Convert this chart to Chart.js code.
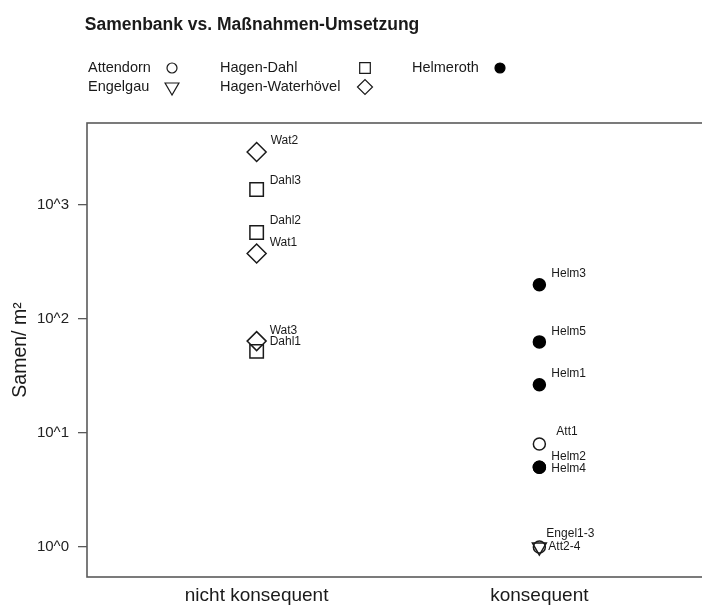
<!DOCTYPE html>
<html>
<head>
<meta charset="utf-8">
<script src="https://cdn.jsdelivr.net/npm/chart.js@4"></script>
<style>
    html, body { margin: 0; padding: 0; background: #fff; width: 702px; height: 605px; overflow: hidden; }
    #wrap { width: 720px; height: 605px; }
</style>
</head>
<body>
<div id="wrap"><canvas id="seedChart" width="720" height="605"></canvas></div>
<script>
// ============ Daten ============
const TITLE = 'Samenbank vs. Maßnahmen-Umsetzung';
const CATEGORIES = ['nicht konsequent', 'konsequent'];
const Y_TICKS = [1, 10, 100, 1000];
const Y_TICK_LABELS = ['10^0', '10^1', '10^2', '10^3'];

const attendornValues = [8, 1];
const attendornNames = ['Att1', 'Att2-4'];
const engelgauValues = [1];
const engelgauNames = ['Engel1-3'];
const dahlValues = [52, 574, 1370];
const dahlNames = ['Dahl1', 'Dahl2', 'Dahl3'];
const waterhoevelValues = [376, 2920, 64];
const waterhoevelNames = ['Wat1', 'Wat2', 'Wat3'];
const helmerothValues = [26.5, 5, 200, 5, 63];
const helmerothNames = ['Helm1', 'Helm2', 'Helm3', 'Helm4', 'Helm5'];

// ============ Stil ============
const FONT = '"Liberation Sans", Arial, Helvetica, sans-serif';
const INK = '#1a1a1a';
const OPEN = 'rgba(0,0,0,0)';

// Beschriftungs-Versatz (px) relativ zum Punkt
const LABEL_OFFSETS = {
    'Wat1': [13, -11], 'Wat2': [14, -11], 'Wat3': [13, -10],
    'Dahl1': [13, -10], 'Dahl2': [13, -12], 'Dahl3': [13, -9],
    'Helm1': [12, -11], 'Helm2': [12, -11], 'Helm3': [12, -11], 'Helm4': [12, 1], 'Helm5': [12, -10],
    'Att1': [17, -12], 'Att2-4': [9, 0], 'Engel1-3': [7, -13]
};

const LEGEND_COLS = [{ text: 88, symbol: 172 }, { text: 220, symbol: 365 }, { text: 412, symbol: 500 }];
const LEGEND_ROWS = [68, 87];

function makeSet(label, values, names, group, style) {
    const xi = CATEGORIES.indexOf(group) + 1;
    return {
        label,
        names,
        data: values.map(v => ({ x: xi, y: v })),
        borderColor: INK,
        borderWidth: 1.5,
        showLine: false,
        ...style
    };
}

const datasets = [
    makeSet('Attendorn', attendornValues, attendornNames, 'konsequent',
        { pointStyle: 'circle', pointRadius: 6, backgroundColor: OPEN, legendRadius: 5 }),
    makeSet('Engelgau', engelgauValues, engelgauNames, 'konsequent',
        { pointStyle: 'triangle', rotation: 180, pointRadius: 8, backgroundColor: OPEN, legendRadius: 8 }),
    makeSet('Hagen-Dahl', dahlValues, dahlNames, 'nicht konsequent',
        { pointStyle: 'rect', pointRadius: 9.5, backgroundColor: OPEN, legendRadius: 7.5 }),
    makeSet('Hagen-Waterhövel', waterhoevelValues, waterhoevelNames, 'nicht konsequent',
        { pointStyle: 'rectRot', pointRadius: 9.5, backgroundColor: OPEN, legendRadius: 7.5 }),
    makeSet('Helmeroth', helmerothValues, helmerothNames, 'konsequent',
        { pointStyle: 'circle', pointRadius: 6, backgroundColor: '#000', borderColor: '#000', legendRadius: 5 })
];

// ============ Plugins ============
const headerPlugin = {
    id: 'header',
    afterDraw(chart) {
        const ctx = chart.ctx;
        ctx.save();
        ctx.fillStyle = INK;
        ctx.font = 'bold 17.5px ' + FONT;
        ctx.textAlign = 'center';
        ctx.textBaseline = 'middle';
        ctx.fillText(TITLE, 252, 25);

        ctx.font = '14.5px ' + FONT;
        ctx.textAlign = 'left';
        chart.data.datasets.forEach((ds, i) => {
            const col = LEGEND_COLS[Math.floor(i / 2)];
            const y = LEGEND_ROWS[i % 2];
            ctx.fillStyle = INK;
            ctx.fillText(ds.label, col.text, y);
            ctx.fillStyle = ds.backgroundColor;
            ctx.strokeStyle = ds.borderColor;
            ctx.lineWidth = 1.2;
            Chart.helpers.drawPoint(ctx, {
                pointStyle: ds.pointStyle,
                radius: ds.legendRadius,
                rotation: ds.rotation || 0,
                borderWidth: 1.2
            }, col.symbol, y);
        });
        ctx.restore();
    }
};

const boxPlugin = {
    id: 'box',
    beforeDatasetsDraw(chart) {
        const { ctx, chartArea: a } = chart;
        ctx.save();
        ctx.strokeStyle = '#5a5a5a';
        ctx.lineWidth = 1.6;
        ctx.strokeRect(a.left, a.top, a.right - a.left, a.bottom - a.top);
        ctx.restore();
    }
};

const pointLabelPlugin = {
    id: 'pointLabels',
    afterDatasetsDraw(chart) {
        const ctx = chart.ctx;
        ctx.save();
        ctx.font = '12px ' + FONT;
        ctx.fillStyle = INK;
        ctx.textAlign = 'left';
        ctx.textBaseline = 'middle';
        chart.data.datasets.forEach((ds, i) => {
            chart.getDatasetMeta(i).data.forEach((pt, j) => {
                const name = ds.names[j];
                const off = LABEL_OFFSETS[name] || [12, -10];
                ctx.fillText(name, pt.x + off[0], pt.y + off[1]);
            });
        });
        ctx.restore();
    }
};

// ============ Diagramm ============
new Chart(document.getElementById('seedChart'), {
    type: 'scatter',
    data: { datasets },
    options: {
        responsive: false,
        devicePixelRatio: 1,
        animation: false,
        clip: false,
        layout: { padding: { top: 123, left: 0, right: 9, bottom: 0 } },
        plugins: {
            legend: { display: false },
            tooltip: { enabled: false }
        },
        scales: {
            x: {
                type: 'linear',
                min: 0.4,
                max: 2.6,
                afterBuildTicks: s => { s.ticks = CATEGORIES.map((c, i) => ({ value: i + 1 })); },
                afterFit: s => { s.height = 28; },
                grid: { display: false, drawTicks: false },
                border: { display: false },
                ticks: {
                    callback: v => CATEGORIES[Math.round(v) - 1],
                    color: INK,
                    font: { family: FONT, size: 19 },
                    padding: 7,
                    maxRotation: 0,
                    autoSkip: false
                }
            },
            y: {
                type: 'logarithmic',
                min: 0.546,
                max: 5240,
                afterBuildTicks: s => { s.ticks = Y_TICKS.map(v => ({ value: v })); },
                afterFit: s => { s.width = 87; },
                grid: { display: true, drawOnChartArea: false, drawTicks: true, tickLength: 9, color: '#5a5a5a', lineWidth: 1.3 },
                border: { display: false },
                ticks: {
                    callback: v => Y_TICK_LABELS[Y_TICKS.indexOf(v)],
                    color: '#222',
                    font: { family: FONT, size: 15 },
                    padding: 9,
                    autoSkip: false
                },
                title: {
                    display: true,
                    text: 'Samen/ m²',
                    color: INK,
                    font: { family: FONT, size: 19.5 },
                    padding: { top: 9, bottom: 0 }
                }
            }
        }
    },
    plugins: [boxPlugin, pointLabelPlugin, headerPlugin]
});
</script>
</body>
</html>
